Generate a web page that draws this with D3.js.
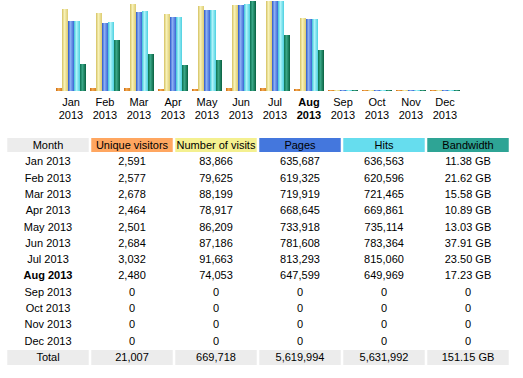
<!DOCTYPE html>
<html><head><meta charset="utf-8">
<script src="https://cdn.jsdelivr.net/npm/d3@7"></script>
<style>html,body{margin:0;padding:0;background:#fff;}svg{display:block;font-family:"Liberation Sans",Arial,sans-serif;}</style>
</head><body>
<script>
const months = ["Jan","Feb","Mar","Apr","May","Jun","Jul","Aug","Sep","Oct","Nov","Dec"];
const year = "2013";
const currentMonth = "Aug";
const uniqueVisitors = [2591,2577,2678,2464,2501,2684,3032,2480,0,0,0,0];
const visits = [83866,79625,88199,78917,86209,87186,91663,74053,0,0,0,0];
const pages = [635687,619325,719919,668645,733918,781608,813293,647599,0,0,0,0];
const hits = [636563,620596,721465,669861,735114,783364,815060,649969,0,0,0,0];
const bandwidthGB = [11.38,21.62,15.58,10.89,13.03,37.91,23.50,17.23,0,0,0,0];
const totals = ["21,007","669,718","5,619,994","5,631,992","151.15 GB"];
const headers = ["Month","Unique visitors","Number of visits","Pages","Hits","Bandwidth"];

const W = 523, H = 378;
const svg = d3.select("body").append("svg").attr("width", W).attr("height", H);

const seriesKeys = ["u","v","p","h","k"];
const barColors = {
  u: ["#c86a10","#f4a850","#d88020"],
  v: ["#d4c060","#f8f2b8","#dccb70"],
  p: ["#2a55c8","#8cb0f4","#3a66d4"],
  h: ["#3cc4d8","#b0f4fa","#4cd0e0"],
  k: ["#0a7050","#3aa888","#086040"]
};
const defs = svg.append("defs");
seriesKeys.forEach(k => {
  const g = defs.append("linearGradient").attr("id","g"+k).attr("x1","0").attr("x2","1").attr("y1","0").attr("y2","0");
  g.append("stop").attr("offset","0%").attr("stop-color",barColors[k][0]);
  g.append("stop").attr("offset","40%").attr("stop-color",barColors[k][1]);
  g.append("stop").attr("offset","100%").attr("stop-color",barColors[k][2]);
});

// chart scales
const x = d3.scaleBand().domain(months).range([54, 462]).paddingInner(4/34).paddingOuter(2/34);
const xs = d3.scaleBand().domain(seriesKeys).range([0, x.bandwidth()]);
const baseY = 91, topY = 1;
const yV = d3.scaleLinear().domain([0, d3.max(visits)]).range([baseY, topY]);
const yH = d3.scaleLinear().domain([0, d3.max(hits)]).range([baseY, topY]);
const yK = d3.scaleLinear().domain([0, d3.max(bandwidthGB)]).range([baseY, topY]);
const seriesData = {u:[uniqueVisitors,yV], v:[visits,yV], p:[pages,yH], h:[hits,yH], k:[bandwidthGB,yK]};

const groups = svg.append("g").selectAll("g").data(months).join("g")
  .attr("transform", m => `translate(${x(m)},0)`);
groups.each(function(m, i){
  const g = d3.select(this);
  seriesKeys.forEach(k => {
    const [vals, sc] = seriesData[k];
    const h = Math.max(1, Math.round(baseY - sc(vals[i])));
    g.append("rect").attr("x", xs(k)).attr("width", xs.bandwidth())
      .attr("y", baseY - h).attr("height", h).attr("fill", `url(#g${k})`);
  });
  const cx = x.bandwidth()/2;
  const bold = m === currentMonth ? "bold" : "normal";
  g.append("text").attr("x", cx).attr("y", 106).attr("text-anchor","middle").attr("font-size",11).attr("font-weight",bold).text(m);
  g.append("text").attr("x", cx).attr("y", 118.5).attr("text-anchor","middle").attr("font-size",11).attr("font-weight",bold).text(year);
});

// table
const cols = d3.scaleBand().domain(headers).range([6, 510]).paddingInner(0.03).paddingOuter(0.015);
const headBg = ["#ececec","#ffa660","#f4f090","#4477dd","#66ddee","#2ea495"];
const fmt = d3.format(",");
const rowY = d3.scaleLinear().domain([0, 13]).range([149, 149 + 13*16.3]);

const tbl = svg.append("g");
headers.forEach((h, j) => {
  tbl.append("rect").attr("x", cols(h)).attr("y", 138).attr("width", cols.bandwidth()).attr("height", 14).attr("fill", headBg[j]);
  tbl.append("text").attr("x", cols(h) + cols.bandwidth()/2).attr("y", rowY(0)).attr("text-anchor","middle").attr("font-size",11).text(h);
});
months.forEach((m, i) => {
  const row = [m + " " + year, fmt(uniqueVisitors[i]), fmt(visits[i]), fmt(pages[i]), fmt(hits[i]),
    bandwidthGB[i] === 0 ? "0" : bandwidthGB[i].toFixed(2) + " GB"];
  row.forEach((t, j) => {
    tbl.append("text").attr("x", cols(headers[j]) + cols.bandwidth()/2).attr("y", rowY(i+1))
      .attr("text-anchor","middle").attr("font-size",11)
      .attr("font-weight", (j === 0 && m === currentMonth) ? "bold" : "normal").text(t);
  });
});
const totalRow = ["Total"].concat(totals);
totalRow.forEach((t, j) => {
  tbl.append("rect").attr("x", cols(headers[j])).attr("y", 350).attr("width", cols.bandwidth()).attr("height", 15).attr("fill", "#ececec");
  tbl.append("text").attr("x", cols(headers[j]) + cols.bandwidth()/2).attr("y", rowY(13) - 0.3)
    .attr("text-anchor","middle").attr("font-size",11).text(t);
});
</script>
</body></html>
